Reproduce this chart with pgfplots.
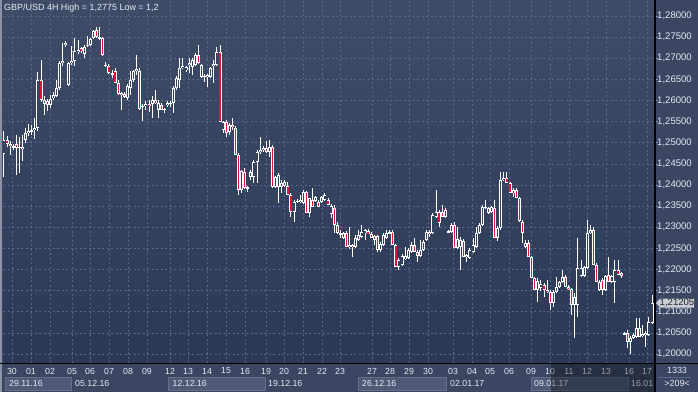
\documentclass[border=0pt]{standalone}
\usepackage{pgfplots}
\pgfplotsset{compat=1.18}
\usepackage{pgfplotstable}
\usepackage{fontspec}
\setmainfont{Liberation Sans}
\definecolor{plottop}{RGB}{63,76,104}
\definecolor{plotbot}{RGB}{44,57,86}
\definecolor{panelbg}{RGB}{58,70,98}
\definecolor{hollow}{RGB}{54,67,95}
\definecolor{gridc}{RGB}{88,104,138}
\definecolor{candred}{RGB}{228,18,58}
\definecolor{txt}{RGB}{228,233,242}
\definecolor{tickc}{RGB}{120,150,200}
\definecolor{weekbox}{RGB}{78,90,118}
\definecolor{weekedge}{RGB}{98,110,138}
\definecolor{framec}{RGB}{140,146,168}
\definecolor{markerc}{RGB}{200,204,212}

\pgfplotstableread{
o h l c
1.2473 1.2528 1.2419 1.2507
1.2507 1.2516 1.2490 1.2497
1.2497 1.2504 1.2471 1.2492
1.2490 1.2497 1.2483 1.2492
1.2497 1.2518 1.2424 1.2488
1.2488 1.2514 1.2429 1.2490
1.2485 1.2518 1.2457 1.2490
1.2507 1.2535 1.2500 1.2523
1.2523 1.2544 1.2516 1.2528
1.2528 1.2542 1.2518 1.2530
1.2530 1.2559 1.2509 1.2535
1.2535 1.2668 1.2528 1.2649
1.2649 1.2696 1.2597 1.2601
1.2592 1.2611 1.2566 1.2601
1.2599 1.2604 1.2575 1.2589
1.2589 1.2613 1.2582 1.2604
1.2606 1.2620 1.2601 1.2613
1.2611 1.2649 1.2608 1.2630
1.2630 1.2694 1.2625 1.2689
1.2689 1.2736 1.2682 1.2694
1.2732 1.2741 1.2727 1.2736
1.2637 1.2691 1.2634 1.2689
1.2689 1.2729 1.2684 1.2694
1.2694 1.2748 1.2682 1.2717
1.2715 1.2743 1.2710 1.2720
1.2724 1.2727 1.2713 1.2717
1.2710 1.2732 1.2701 1.2727
1.2729 1.2753 1.2727 1.2732
1.2732 1.2748 1.2729 1.2746
1.2748 1.2767 1.2746 1.2765
1.2767 1.2775 1.2748 1.2750
1.2750 1.2774 1.2743 1.2748
1.2748 1.2750 1.2705 1.2708
1.2684 1.2691 1.2679 1.2682
1.2682 1.2686 1.2663 1.2665
1.2663 1.2672 1.2653 1.2665
1.2670 1.2677 1.2642 1.2642
1.2642 1.2649 1.2613 1.2616
1.2613 1.2620 1.2578 1.2618
1.2616 1.2620 1.2606 1.2608
1.2606 1.2639 1.2601 1.2634
1.2630 1.2670 1.2613 1.2649
1.2649 1.2672 1.2644 1.2670
1.2670 1.2708 1.2660 1.2675
1.2670 1.2677 1.2578 1.2580
1.2585 1.2592 1.2552 1.2587
1.2587 1.2599 1.2578 1.2592
1.2592 1.2601 1.2573 1.2587
1.2592 1.2611 1.2559 1.2601
1.2601 1.2625 1.2592 1.2594
1.2578 1.2601 1.2559 1.2594
1.2589 1.2594 1.2578 1.2578
1.2578 1.2582 1.2570 1.2580
1.2589 1.2599 1.2585 1.2594
1.2592 1.2599 1.2585 1.2594
1.2594 1.2634 1.2570 1.2630
1.2630 1.2658 1.2625 1.2653
1.2649 1.2701 1.2630 1.2677
1.2677 1.2701 1.2675 1.2682
1.2672 1.2682 1.2668 1.2679
1.2684 1.2701 1.2665 1.2689
1.2679 1.2701 1.2660 1.2696
1.2684 1.2713 1.2682 1.2708
1.2708 1.2732 1.2686 1.2689
1.2656 1.2686 1.2653 1.2684
1.2658 1.2663 1.2644 1.2656
1.2656 1.2663 1.2632 1.2660
1.2656 1.2679 1.2653 1.2677
1.2682 1.2696 1.2642 1.2686
1.2684 1.2727 1.2682 1.2715
1.2715 1.2732 1.2549 1.2549
1.2530 1.2552 1.2523 1.2549
1.2549 1.2554 1.2514 1.2523
1.2526 1.2547 1.2518 1.2542
1.2542 1.2559 1.2530 1.2537
1.2535 1.2540 1.2471 1.2471
1.2471 1.2476 1.2376 1.2388
1.2388 1.2436 1.2381 1.2433
1.2431 1.2440 1.2391 1.2393
1.2393 1.2398 1.2384 1.2395
1.2419 1.2436 1.2412 1.2431
1.2419 1.2459 1.2405 1.2455
1.2455 1.2483 1.2405 1.2478
1.2478 1.2514 1.2473 1.2483
1.2483 1.2492 1.2478 1.2488
1.2488 1.2504 1.2476 1.2478
1.2478 1.2507 1.2466 1.2490
1.2490 1.2495 1.2393 1.2395
1.2395 1.2421 1.2393 1.2419
1.2395 1.2429 1.2357 1.2424
1.2405 1.2412 1.2381 1.2395
1.2398 1.2412 1.2395 1.2407
1.2398 1.2407 1.2376 1.2376
1.2376 1.2381 1.2324 1.2336
1.2336 1.2365 1.2312 1.2360
1.2362 1.2367 1.2357 1.2360
1.2360 1.2376 1.2357 1.2365
1.2357 1.2388 1.2355 1.2384
1.2384 1.2386 1.2334 1.2334
1.2334 1.2369 1.2324 1.2369
1.2365 1.2393 1.2348 1.2348
1.2362 1.2374 1.2360 1.2372
1.2360 1.2365 1.2348 1.2348
1.2360 1.2374 1.2357 1.2372
1.2365 1.2381 1.2362 1.2376
1.2365 1.2369 1.2353 1.2353
1.2331 1.2355 1.2322 1.2350
1.2346 1.2353 1.2286 1.2305
1.2305 1.2312 1.2284 1.2286
1.2286 1.2294 1.2275 1.2284
1.2275 1.2289 1.2272 1.2286
1.2286 1.2291 1.2253 1.2253
1.2253 1.2301 1.2249 1.2258
1.2258 1.2260 1.2230 1.2253
1.2253 1.2282 1.2251 1.2275
1.2270 1.2294 1.2268 1.2282
1.2277 1.2305 1.2275 1.2289
1.2286 1.2296 1.2270 1.2294
1.2291 1.2296 1.2284 1.2284
1.2284 1.2289 1.2275 1.2275
1.2270 1.2282 1.2258 1.2279
1.2279 1.2282 1.2242 1.2246
1.2246 1.2265 1.2242 1.2260
1.2258 1.2286 1.2256 1.2282
1.2275 1.2294 1.2272 1.2286
1.2286 1.2294 1.2284 1.2289
1.2289 1.2294 1.2258 1.2258
1.2258 1.2260 1.2206 1.2206
1.2206 1.2227 1.2199 1.2223
1.2211 1.2237 1.2208 1.2232
1.2225 1.2253 1.2223 1.2232
1.2227 1.2251 1.2225 1.2246
1.2242 1.2265 1.2239 1.2258
1.2258 1.2275 1.2242 1.2242
1.2242 1.2246 1.2218 1.2232
1.2232 1.2270 1.2230 1.2246
1.2246 1.2270 1.2244 1.2265
1.2270 1.2294 1.2268 1.2289
1.2289 1.2294 1.2277 1.2284
1.2286 1.2334 1.2284 1.2329
1.2324 1.2388 1.2322 1.2336
1.2336 1.2341 1.2301 1.2310
1.2336 1.2353 1.2324 1.2324
1.2324 1.2346 1.2322 1.2341
1.2289 1.2294 1.2286 1.2291
1.2289 1.2310 1.2286 1.2305
1.2305 1.2312 1.2251 1.2251
1.2251 1.2301 1.2249 1.2272
1.2253 1.2277 1.2199 1.2270
1.2268 1.2272 1.2230 1.2230
1.2230 1.2237 1.2218 1.2234
1.2227 1.2251 1.2225 1.2246
1.2242 1.2275 1.2239 1.2258
1.2253 1.2301 1.2251 1.2286
1.2286 1.2310 1.2284 1.2305
1.2305 1.2353 1.2303 1.2348
1.2346 1.2365 1.2343 1.2348
1.2334 1.2348 1.2331 1.2346
1.2336 1.2350 1.2334 1.2348
1.2346 1.2365 1.2275 1.2275
1.2275 1.2303 1.2268 1.2298
1.2298 1.2431 1.2294 1.2412
1.2412 1.2431 1.2410 1.2417
1.2417 1.2431 1.2405 1.2405
1.2405 1.2407 1.2381 1.2381
1.2381 1.2393 1.2372 1.2388
1.2388 1.2393 1.2369 1.2369
1.2369 1.2372 1.2312 1.2315
1.2312 1.2317 1.2263 1.2286
1.2253 1.2270 1.2251 1.2263
1.2263 1.2270 1.2230 1.2230
1.2230 1.2232 1.2180 1.2180
1.2180 1.2182 1.2152 1.2152
1.2152 1.2180 1.2123 1.2173
1.2156 1.2175 1.2149 1.2166
1.2163 1.2168 1.2135 1.2152
1.2152 1.2175 1.2144 1.2147
1.2147 1.2152 1.2104 1.2121
1.2121 1.2152 1.2111 1.2147
1.2147 1.2182 1.2144 1.2159
1.2159 1.2173 1.2156 1.2170
1.2170 1.2199 1.2168 1.2182
1.2182 1.2187 1.2159 1.2159
1.2159 1.2163 1.2152 1.2154
1.2154 1.2156 1.2092 1.2116
1.2116 1.2144 1.2038 1.2135
1.2116 1.2275 1.2088 1.2204
1.2185 1.2223 1.2182 1.2204
1.2185 1.2208 1.2182 1.2206
1.2204 1.2317 1.2201 1.2286
1.2286 1.2305 1.2284 1.2294
1.2294 1.2301 1.2211 1.2211
1.2211 1.2215 1.2170 1.2170
1.2152 1.2175 1.2149 1.2170
1.2175 1.2180 1.2140 1.2152
1.2152 1.2187 1.2149 1.2185
1.2187 1.2230 1.2170 1.2170
1.2170 1.2187 1.2168 1.2185
1.2170 1.2223 1.2121 1.2199
1.2199 1.2223 1.2187 1.2187
1.2192 1.2194 1.2180 1.2185
1.2050 1.2052 1.2045 1.2047
1.2050 1.2057 1.2014 1.2028
1.2028 1.2043 1.2000 1.2038
1.2038 1.2050 1.2036 1.2045
1.2040 1.2085 1.2038 1.2061
1.2061 1.2085 1.2040 1.2040
1.2043 1.2069 1.2040 1.2047
1.2045 1.2054 1.2017 1.2050
1.2045 1.2088 1.2043 1.2076
1.2073 1.2140 1.2071 1.21205
}\candles

\pgfplotsset{candle/.style={draw=none, mark=none, forget plot,
  error bars/.cd, y dir=both, y explicit, error mark=none}}

\begin{document}
\begin{tikzpicture}[x=1bp,y=1bp]
\useasboundingbox (0,0) rectangle (698,392);
\fill[panelbg] (0,0) rectangle (698,392);
\begin{axis}[
  at={(3bp,29bp)}, anchor=south west,
  scale only axis, width=652bp, height=363bp,
  xmin=-0.324, xmax=210.97, ymin=1.19787, ymax=1.28379,
  axis background/.style={top color=plottop, bottom color=plotbot},
  axis line style={draw=none},
  xtick={2.59,8.75,14.91,22.04,27.87,34.03,40.19,46.34,53.80,59.63,65.79,71.95,78.10,84.91,90.74,96.90,103.06,108.89,119.26,125.09,131.25,137.41,145.51,151.67,157.50,163.66,170.79,176.95,183.11,188.94,195.10,202.56,208.39},
  xticklabels={30,01,02,05,06,07,08,09,12,13,14,15,16,19,20,21,22,23,27,28,29,30,03,04,05,06,09,10,11,12,13,16,17},
  ytick={1.200,1.205,1.210,1.215,1.220,1.225,1.230,1.235,1.240,1.245,1.250,1.255,1.260,1.265,1.270,1.275,1.280},
  yticklabels={{1,20000},{1,20500},{1,21000},{1,21500},{1,22000},{1,22500},{1,23000},{1,23500},{1,24000},{1,24500},{1,25000},{1,25500},{1,26000},{1,26500},{1,27000},{1,27500},{1,28000}},
  yticklabel pos=right, ytick pos=right, xtick pos=bottom,
  tick align=outside, major tick length=3bp,
  xtick style={draw=none},
  ytick style={draw=tickc, line width=0.7bp},
  grid=major,
  major grid style={draw=gridc, dash pattern=on 2bp off 2.5bp, line width=0.7bp},
  xticklabel style={font=\fontsize{8.8}{9}\selectfont, text=txt, anchor=center, inner sep=0pt, yshift=-5bp},
  yticklabel style={font=\fontsize{9.6}{10}\selectfont, text=txt, anchor=east, inner sep=0pt, xshift=34bp},
]
% wicks
\addplot[candle, error bar style={draw=white, line width=1.0bp}]
  table[x expr=\coordindex, y expr=(\thisrow{h}+\thisrow{l})/2,
        y error expr=(\thisrow{h}-\thisrow{l})/2]{\candles};
% body outline
\addplot[candle, error bar style={draw=white, line width=3.0bp}]
  table[x expr=\coordindex, y expr=(\thisrow{o}+\thisrow{c})/2,
        y error expr={max(abs(\thisrow{o}-\thisrow{c})/2,0.00012)}]{\candles};
% bearish fill
\addplot[candle, error bar style={draw=candred, line width=1.3bp}]
  table[x expr=\coordindex, y expr=(\thisrow{o}+\thisrow{c})/2,
        y error expr={ifthenelse(\thisrow{c}<\thisrow{o}, max(abs(\thisrow{o}-\thisrow{c})/2-0.00019,0), 0)}]{\candles};
% bullish hollow
\addplot[candle, error bar style={draw=hollow, line width=1.2bp}]
  table[x expr=\coordindex, y expr=(\thisrow{o}+\thisrow{c})/2,
        y error expr={ifthenelse(\thisrow{c}>\thisrow{o}, max(abs(\thisrow{o}-\thisrow{c})/2-0.00019,0), 0)}]{\candles};
\end{axis}
% frame and separators
\fill[framec] (0,0) rectangle (2.4,392);
\draw[black, line width=1.2bp] (0,28.8) -- (698,28.8);
\draw[black, line width=1.2bp] (655,0) -- (655,392);
% title
\node[anchor=west, inner sep=0pt, text=txt, font=\fontsize{9}{10}\selectfont] at (4,384) {GBP/USD 4H High = 1,2775 Low = 1,2};
% week boxes
\filldraw[fill=weekbox, draw=weekedge, line width=0.6bp] (5,2) rectangle (71,15);
\filldraw[fill=weekbox, draw=weekedge, line width=0.6bp] (168,2) rectangle (265,15);
\filldraw[fill=weekbox, draw=weekedge, line width=0.6bp] (358,2) rectangle (446,15);
\filldraw[fill=weekbox, draw=weekedge, line width=0.6bp] (531,2) rectangle (628,15);
\begin{scope}[every node/.style={anchor=west, inner sep=0pt, text=txt, font=\fontsize{8.8}{9}\selectfont}]
\node at (9,8.5) {29.11.16};
\node at (75,8.5) {05.12.16};
\node at (172.5,8.5) {12.12.16};
\node at (268,8.5) {19.12.16};
\node at (362,8.5) {26.12.16};
\node at (450,8.5) {02.01.17};
\node at (534,8.5) {09.01.17};
\node at (631,8.5) {16.01};
\end{scope}
\fill[black, opacity=0.32] (551,0) rectangle (654.4,28.2);
% right bottom panel
\node[inner sep=0pt, text=txt, font=\fontsize{9}{10}\selectfont] at (677,21.3) {1333};
\draw[gridc, line width=0.6bp] (658,15) -- (691,15);
\node[inner sep=0pt, text=txt, font=\fontsize{9}{10}\selectfont] at (677,8.5) {>209<};
% last price marker
\fill[markerc] (656,89) -- (660,93.5) -- (694,93.5) -- (694,84.5) -- (660,84.5) -- cycle;
\node[inner sep=0pt, text=black!85, font=\fontsize{9.6}{10}\selectfont] at (677,89) {1,21205};
\end{tikzpicture}
\end{document}
